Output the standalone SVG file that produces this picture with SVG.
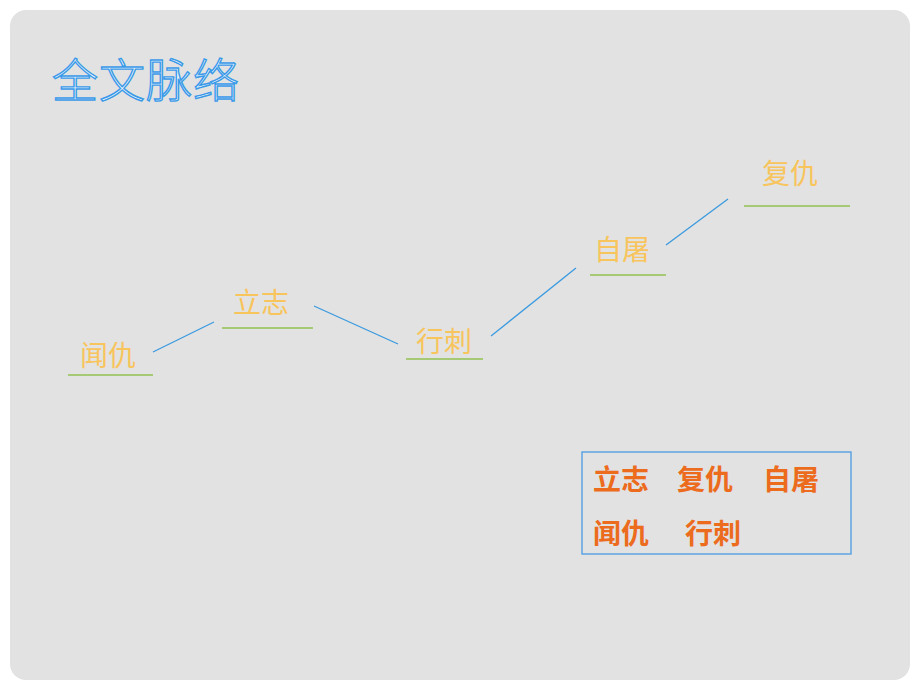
<svg xmlns="http://www.w3.org/2000/svg" width="920" height="690" viewBox="0 0 920 690">
<defs>
<style>
.lbl{font-family:"Noto Sans CJK SC","Noto Sans CJK JP",sans-serif;font-size:28px;fill:#f8c45c}
.ul{stroke:#92c051;stroke-width:1.5}
.con{stroke:#3a9ae0;stroke-width:1.3;fill:none}
.box{font-family:"Noto Sans CJK SC","Noto Sans CJK JP",sans-serif;font-size:28px;fill:#ec6b1c;font-weight:bold}
</style>
</defs>
<rect width="920" height="690" fill="#ffffff"/>
<rect x="10" y="10" width="900" height="670" rx="16" ry="16" fill="#e2e2e2"/>
<g id="title"><text x="52" y="97" font-family="'Noto Sans CJK SC',sans-serif" font-size="46" fill="#f2f8fe" stroke="#3a9ae8" stroke-width="1.4" font-weight="300" letter-spacing="1">全文脉络</text></g>
<g id="connectors">
<line class="con" x1="153" y1="352" x2="214" y2="322"/>
<line class="con" x1="314" y1="306" x2="398" y2="344"/>
<line class="con" x1="491" y1="336" x2="576" y2="268"/>
<line class="con" x1="666" y1="245" x2="728" y2="199"/>
</g>
<g id="n1"><text class="lbl" x="80" y="366">闻仇</text><line class="ul" x1="68" y1="375" x2="153" y2="375"/></g>
<g id="n2"><text class="lbl" x="233" y="313">立志</text><line class="ul" x1="222" y1="328" x2="313" y2="328"/></g>
<g id="n3"><text class="lbl" x="416" y="352">行刺</text><line class="ul" x1="406" y1="359" x2="483" y2="359"/></g>
<g id="n4"><text class="lbl" x="594" y="260">自屠</text><line class="ul" x1="590" y1="275" x2="666" y2="275"/></g>
<g id="n5"><text class="lbl" x="762" y="184">复仇</text><line class="ul" x1="744" y1="206" x2="850" y2="206"/></g>
<g id="answer">
<rect x="582" y="452" width="269" height="102" fill="none" stroke="#4a9be2" stroke-width="1.3"/>
<text class="box" x="593" y="490">立志</text>
<text class="box" x="677" y="490">复仇</text>
<text class="box" x="763" y="490">自屠</text>
<text class="box" x="593" y="544">闻仇</text>
<text class="box" x="685" y="544">行刺</text>
</g>
</svg>
